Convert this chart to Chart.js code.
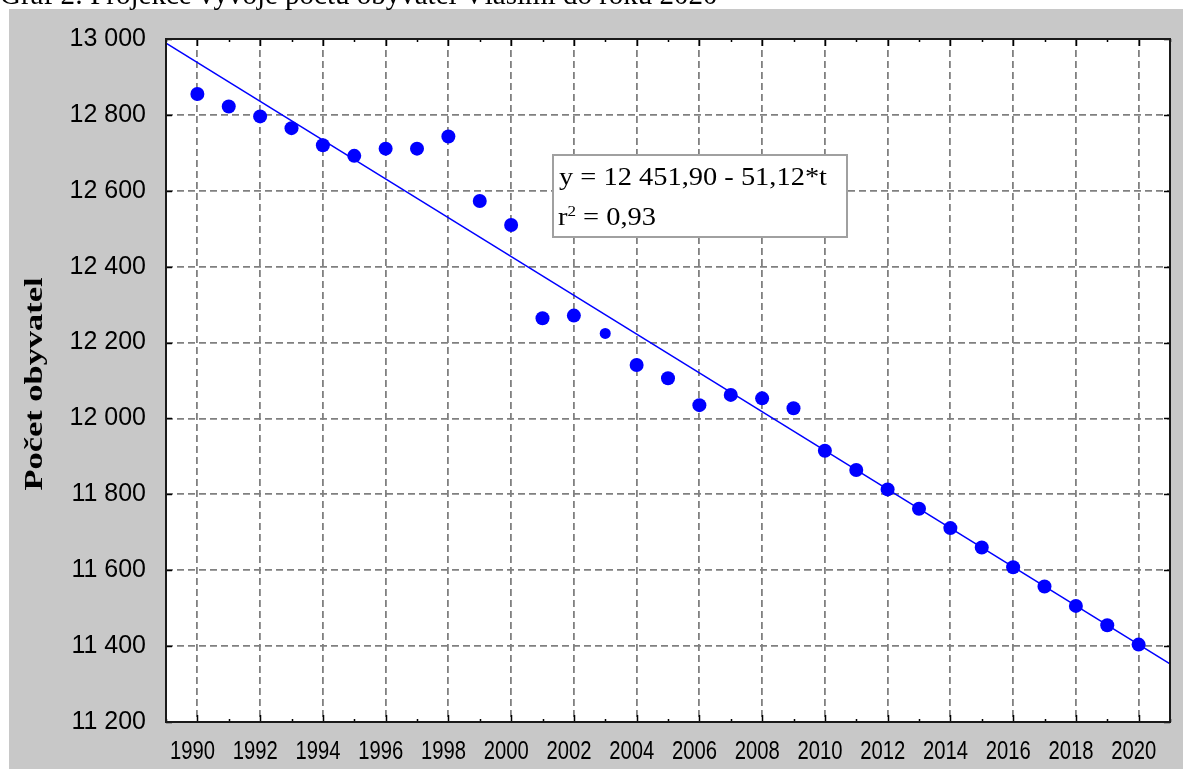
<!DOCTYPE html>
<html>
<head>
<meta charset="utf-8">
<script src="https://cdn.jsdelivr.net/npm/chart.js@4.4.1/dist/chart.umd.min.js"></script>
<style>
  html, body { margin: 0; padding: 0; background: #fff; }
  canvas { display: block; }
</style>
</head>
<body>
<canvas id="myChart" width="1183" height="769"></canvas>
<script>
// data
var years = [1990, 1991, 1992, 1993, 1994, 1995, 1996, 1997, 1998, 1999, 2000,
             2001, 2002, 2003, 2004, 2005, 2006, 2007, 2008, 2009, 2010,
             2011, 2012, 2013, 2014, 2015, 2016, 2017, 2018, 2019, 2020];
var population = [12855, 12822, 12796, 12765, 12720, 12692, 12711, 12711, 12743, 12573, 12510,
                  12264, 12271, 12224, 12141, 12106, 12035, 12062, 12053, 12027, 11915,
                  11864, 11813, 11762, 11711, 11660, 11608, 11557, 11506, 11455, 11404];
var trendYears = [1989, 2021];
var trendValues = [12989, 11353];
var xTickLabels = [1990, 1992, 1994, 1996, 1998, 2000, 2002, 2004, 2006, 2008, 2010,
                   2012, 2014, 2016, 2018, 2020];
var yTickValues = [11200, 11400, 11600, 11800, 12000, 12200, 12400, 12600, 12800, 13000];
var titleText = 'Graf 2: Projekce vývoje počtu obyvatel Vlasimi do roku 2020';
var yAxisTitle = 'Počet obyvatel';
var equationText = 'y = 12 451,90 - 51,12*t';
var r2Text = '0,93';

function spaced(v) {
    return String(v).replace(/\B(?=(\d{3})+$)/g, ' ');
}

var frame = {
    id: 'frame',
    beforeDraw: function (chart) {
        var c = chart.ctx, a = chart.chartArea;
        c.save();
        c.fillStyle = '#ffffff';
        c.fillRect(0, 0, chart.width, chart.height);
        c.fillStyle = '#c8c8c8';
        c.fillRect(9, 9, chart.width - 9, chart.height - 9);
        c.fillStyle = '#000';
        c.font = '29px "Liberation Serif"';
        c.textBaseline = 'alphabetic';
        c.fillText(titleText, 0, 4);
        c.fillStyle = '#ffffff';
        c.fillRect(a.left, a.top, a.right - a.left, a.bottom - a.top);
        c.restore();
    },
    afterDraw: function (chart) {
        var c = chart.ctx, a = chart.chartArea;
        var xs = chart.scales.x, ys = chart.scales.y;
        c.save();
        // ticks pointing inwards
        c.strokeStyle = '#000';
        c.lineWidth = 1.5;
        c.beginPath();
        for (var v = Math.ceil(xs.min); v <= xs.max; v++) {
            var px = Math.round(xs.getPixelForValue(v)) + 0.5;
            var len = v % 2 === 0 ? 7 : 3;
            c.moveTo(px, a.bottom); c.lineTo(px, a.bottom - len);
            c.moveTo(px, a.top); c.lineTo(px, a.top + len);
        }
        yTickValues.forEach(function (t) {
            var py = Math.round(ys.getPixelForValue(t)) + 0.5;
            c.moveTo(a.left, py); c.lineTo(a.left + 6, py);
            c.moveTo(a.right, py); c.lineTo(a.right - 6, py);
        });
        c.stroke();
        // plot frame
        c.lineWidth = 2;
        c.strokeStyle = '#1a1a1a';
        c.strokeRect(a.left, a.top, a.right - a.left, a.bottom - a.top);

        // x tick labels (narrow face, squeezed horizontally)
        c.fillStyle = '#000';
        c.font = '26px "Liberation Sans"';
        c.textAlign = 'center';
        c.textBaseline = 'alphabetic';
        var q = 45 / c.measureText('1990').width;
        xTickLabels.forEach(function (t) {
            c.save();
            c.translate(xs.getPixelForValue(t) - 5, 759);
            c.scale(q, 1);
            c.fillText(String(t), 0, 0);
            c.restore();
        });
        c.textAlign = 'left';

        // equation box
        var bx = 553, by = 155, bw = 294, bh = 82;
        c.fillStyle = '#ffffff';
        c.fillRect(bx, by, bw, bh);
        c.strokeStyle = '#a0a0a0';
        c.lineWidth = 2;
        c.strokeRect(bx, by, bw, bh);
        c.fillStyle = '#000';
        c.font = '25px "Liberation Serif"';
        var sx = 268 / c.measureText(equationText).width;
        c.save();
        c.translate(559, 185);
        c.scale(sx, 1);
        c.fillText(equationText, 0, 0);
        c.restore();
        c.save();
        c.translate(558, 225);
        c.scale(sx, 1);
        c.fillText('r', 0, 0);
        var rw = c.measureText('r').width;
        c.font = '15px "Liberation Serif"';
        c.fillText('2', rw, -9);
        var tw = c.measureText('2').width;
        c.font = '25px "Liberation Serif"';
        c.fillText(' = ' + r2Text, rw + tw, 0);
        c.restore();

        // y axis title
        c.font = 'bold 25px "Liberation Serif"';
        var k = 213 / c.measureText(yAxisTitle).width;
        c.translate(36, 384);
        c.rotate(-Math.PI / 2);
        c.scale(k, 1);
        c.textAlign = 'center';
        c.textBaseline = 'middle';
        c.fillText(yAxisTitle, 0, 0);
        c.restore();
    }
};

var ctx = document.getElementById('myChart').getContext('2d');
var myChart = new Chart(ctx, {
    type: 'scatter',
    data: {
        datasets: [{
            label: 'trend',
            data: trendYears.map(function (y, i) { return { x: y, y: trendValues[i] }; }),
            showLine: true,
            borderColor: '#0000ff',
            borderWidth: 1.5,
            pointRadius: 0,
            order: 2
        }, {
            label: 'obyvatelé',
            data: years.map(function (y, i) { return { x: y, y: population[i] }; }),
            backgroundColor: '#0000ff',
            borderWidth: 0,
            pointRadius: years.map(function (y) { return y === 2003 ? 5.5 : 7; }),
            pointHoverRadius: 7,
            order: 1
        }]
    },
    options: {
        responsive: false,
        animation: false,
        devicePixelRatio: 1,
        layout: { padding: { top: 39, right: 13, left: 0, bottom: 0 } },
        plugins: {
            legend: { display: false },
            tooltip: { enabled: false }
        },
        scales: {
            x: {
                type: 'linear',
                min: 1989,
                max: 2021,
                afterBuildTicks: function (scale) {
                    scale.ticks = xTickLabels.map(function (v) { return { value: v }; });
                },
                afterFit: function (scale) { scale.height = 47; },
                grid: { color: '#808080', lineWidth: 1.8, drawTicks: false },
                border: { display: false, dash: [7, 4] },
                ticks: { display: false }
            },
            y: {
                min: 11200,
                max: 13000,
                afterBuildTicks: function (scale) {
                    scale.ticks = yTickValues.map(function (v) { return { value: v }; });
                },
                afterFit: function (scale) { scale.width = 166; },
                grid: { color: '#808080', lineWidth: 1.8, drawTicks: false },
                border: { display: false, dash: [7, 4] },
                ticks: {
                    color: '#000',
                    padding: 20,
                    font: { family: '"Liberation Sans"', size: 25 },
                    callback: function (v) { return spaced(v); }
                }
            }
        }
    },
    plugins: [frame]
});
</script>
</body>
</html>
